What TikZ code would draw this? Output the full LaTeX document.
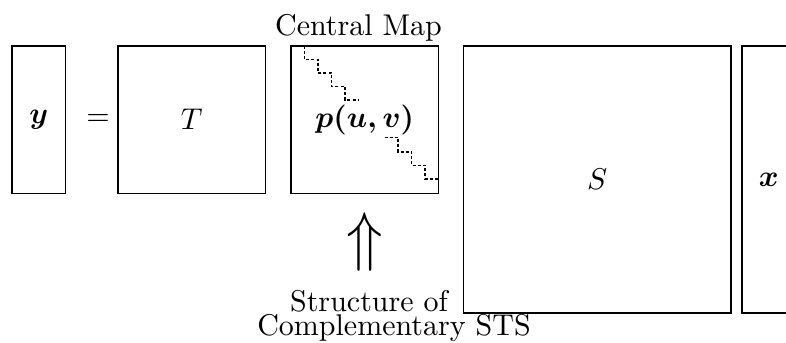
\documentclass[tikz,border=0pt]{standalone}
\usepackage{amsmath}
\usepackage{graphicx}
\begin{document}
\begin{tikzpicture}[x=0.33333pt,y=-0.33333pt,
  box/.style={draw,line width=0.45pt,inner sep=0pt,outer sep=0pt},
  narrow/.style={box,minimum width=17.83pt},
  smallsq/.style={box,minimum width=49.17pt,minimum height=49.17pt},
  stair/.style={line width=0.35pt,dash pattern=on 1pt off 0.7pt},
  lbl/.style={anchor=base,inner sep=0pt}]
\clip (0,0) rectangle (786,343);
\node[narrow,minimum height=49.17pt] (ybox) at (38.75,119.75) {$\boldsymbol{y}$};
\node (eq) at (98,119.75) {$=$};
\node[smallsq] (tbox) at (191.75,119.75) {$T$};
\node[smallsq] (cbox) at (364.75,119.75) {$\boldsymbol{p(u,v)}$};
\node[box,minimum width=89.17pt,minimum height=89pt] (sbox) at (597.25,179.5) {$S$};
\node[narrow,minimum height=89pt] (xbox) at (768.75,179.5) {$\boldsymbol{x}$};
\node[lbl] (cmap) at (358.5,35.5) {Central Map};
\draw[stair] (304.5,46) |- (318,59.5) |- (331.5,73) |- (345,86.5) |- (358.5,100);
\draw[stair] (384.5,137.5) -| (398,152) -| (411.5,165.5) -| (425,179) -- (438.5,179);
\node (arr) at (365,242) {\scalebox{2}[2.2]{$\Uparrow$}};
\node[lbl] (st1) at (369,311.3) {Structure of};
\node[lbl] (st2) at (394,336) {Complementary STS};
\end{tikzpicture}
\end{document}
